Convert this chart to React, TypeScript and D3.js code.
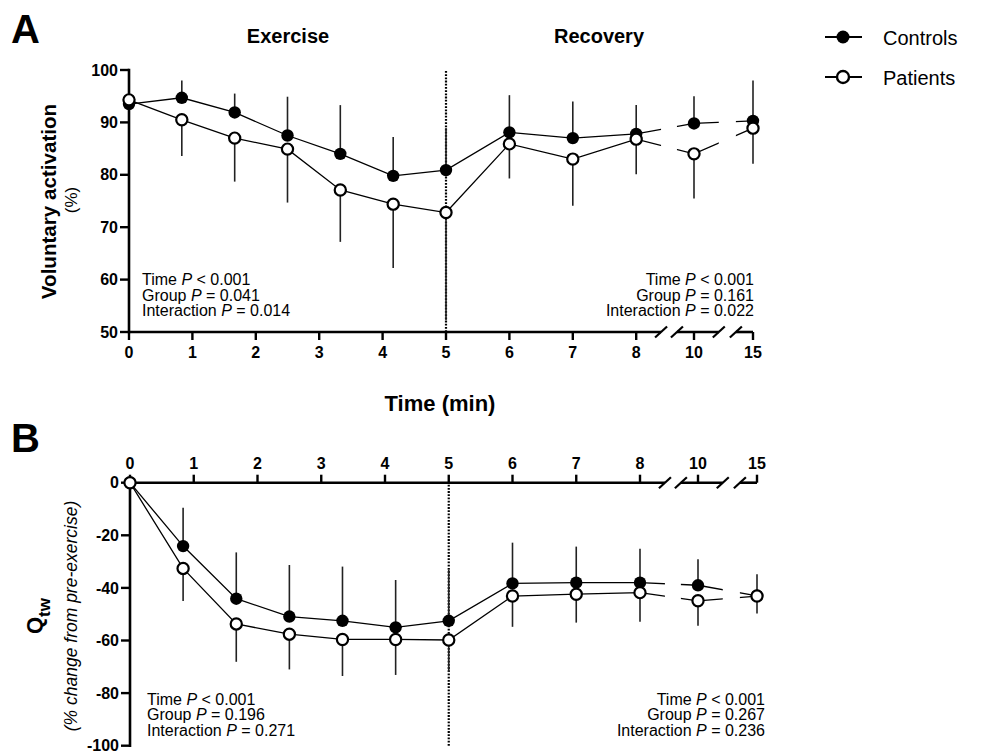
import React from "react";
import * as d3 from "d3";

// time points (min); exercise sampled every 50 s, then recovery
const times = [0, 0.833, 1.667, 2.5, 3.333, 4.167, 5, 6, 7, 8, 10, 15];
const xTicks = [0, 1, 2, 3, 4, 5, 6, 7, 8, 10, 15];
const axisBreaks: [number, number][] = [
  [8.86, 9.41],
  [12.1, 13.55],
];
const phaseLabels = ["Exercise", "Recovery"];
const groupNames = ["Controls", "Patients"];

// Panel A: voluntary activation (%)
const vaControls = [93.5, 94.7, 91.9, 87.5, 84.0, 79.8, 80.9, 88.1, 87.0, 87.8, 89.8, 90.3];
const vaControlsErr = [0, 3.3, 3.6, 7.4, 9.3, 7.4, 8.0, 7.1, 7.0, 5.5, 5.2, 7.7];
const vaPatients = [94.3, 90.5, 87.0, 84.9, 77.1, 74.4, 72.8, 85.9, 83.0, 86.8, 84.0, 88.9];
const vaPatientsErr = [0, 6.9, 8.3, 10.2, 9.9, 12.2, 20.5, 6.6, 8.9, 6.7, 8.5, 6.8];
const vaTicks = [50, 60, 70, 80, 90, 100];
const vaStatsExercise = [
  ["Time", "<", "0.001"],
  ["Group", "=", "0.041"],
  ["Interaction", "=", "0.014"],
];
const vaStatsRecovery = [
  ["Time", "<", "0.001"],
  ["Group", "=", "0.161"],
  ["Interaction", "=", "0.022"],
];

// Panel B: Qtw (% change from pre-exercise)
const qtwControls = [0, -24.1, -44.1, -50.9, -52.5, -55.0, -52.5, -38.3, -38.0, -38.0, -39.0, -43.0];
const qtwControlsErr = [0, 14.6, 17.6, 19.6, 20.6, 18.0, 19.3, 15.5, 13.7, 12.9, 9.9, 8.2];
const qtwPatients = [0, -32.6, -53.7, -57.6, -59.6, -59.6, -59.8, -43.1, -42.4, -41.8, -44.9, -43.1];
const qtwPatientsErr = [0, 12.4, 14.4, 13.4, 13.9, 13.5, 12.2, 11.7, 10.8, 11.1, 9.5, 6.6];
const qtwTicks = [-100, -80, -60, -40, -20, 0];
const qtwStatsExercise = [
  ["Time", "<", "0.001"],
  ["Group", "=", "0.196"],
  ["Interaction", "=", "0.271"],
];
const qtwStatsRecovery = [
  ["Time", "<", "0.001"],
  ["Group", "=", "0.267"],
  ["Interaction", "=", "0.236"],
];

const FONT = "'Liberation Sans', Arial, Helvetica, sans-serif";

function StatBlock({
  rows,
  x,
  y,
  anchor,
}: {
  rows: string[][];
  x: number;
  y: number;
  anchor: "start" | "end";
}) {
  return (
    <g fontSize={16} textAnchor={anchor} fill="#000">
      {rows.map((r, i) => (
        <text key={i} x={x} y={y + i * 15.6}>
          {`${r[0]} `}
          <tspan fontStyle="italic">P</tspan>
          {` ${r[1]} ${r[2]}`}
        </text>
      ))}
    </g>
  );
}

interface PanelProps {
  id: string;
  x: d3.ScaleLinear<number, number>;
  y: d3.ScaleLinear<number, number>;
  yTicks: number[];
  axisOnTop: boolean;
  controls: number[];
  controlsErr: number[];
  patients: number[];
  patientsErr: number[];
}

function Panel({ id, x, y, yTicks, axisOnTop, controls, controlsErr, patients, patientsErr }: PanelProps) {
  const [yMin, yMax] = y.domain();
  const x0 = x(0);
  const axisY = axisOnTop ? y(yMax) : y(yMin);
  const segs: [number, number][] = [
    [0, axisBreaks[0][0]],
    [axisBreaks[0][1], axisBreaks[1][0]],
    [axisBreaks[1][1], 15],
  ];
  const line = d3
    .line<number>()
    .x((_d, i) => x(times[i]))
    .y((d) => y(d));
  const tickDir = axisOnTop ? -8 : 8;
  const labelY = axisOnTop ? axisY - 13.5 : axisY + 25.5;

  return (
    <g fontFamily={FONT}>
      <defs>
        <clipPath id={`clip-${id}`}>
          {segs.map(([a, b], i) => {
            const xa = i === 0 ? x(a) - 30 : x(a);
            const xb = i === segs.length - 1 ? x(b) + 30 : x(b);
            return <rect key={i} x={xa} y={0} width={xb - xa} height={752} />;
          })}
        </clipPath>
      </defs>

      {/* y axis */}
      <line x1={x0} x2={x0} y1={y(yMin)} y2={y(yMax)} stroke="#000" strokeWidth={2.6} strokeLinecap="square" />
      {yTicks.map((t) => (
        <g key={t}>
          <line x1={x0 - 9} x2={x0} y1={y(t)} y2={y(t)} stroke="#000" strokeWidth={2.4} />
          <text x={x0 - 11} y={y(t) + 5.6} textAnchor="end" fontSize={16} fontWeight="bold">
            {String(t)}
          </text>
        </g>
      ))}

      {/* x axis with breaks */}
      {segs.map(([a, b], i) => (
        <line key={i} x1={x(a)} x2={x(b)} y1={axisY} y2={axisY} stroke="#000" strokeWidth={2.6} />
      ))}
      {axisBreaks.flat().map((b, i) => (
        <line
          key={i}
          x1={x(b) - 6}
          x2={x(b) + 6}
          y1={axisY + 5.5}
          y2={axisY - 5.5}
          stroke="#000"
          strokeWidth={2.2}
        />
      ))}
      {xTicks.map((t) => (
        <g key={t}>
          <line x1={x(t)} x2={x(t)} y1={axisY} y2={axisY + tickDir} stroke="#000" strokeWidth={2.4} />
          <text x={x(t)} y={labelY} textAnchor="middle" fontSize={16} fontWeight="bold">
            {String(t)}
          </text>
        </g>
      ))}

      {/* end of exercise */}
      <line
        x1={x(5)}
        x2={x(5)}
        y1={y(yMin)}
        y2={y(yMax)}
        stroke="#000"
        strokeWidth={2.2}
        strokeDasharray="1.8 1.4"
      />

      {/* error bars: controls upward, patients downward */}
      {times.map((t, i) =>
        controlsErr[i] > 0 ? (
          <line key={`ce${i}`} x1={x(t)} x2={x(t)} y1={y(controls[i])} y2={y(controls[i] + controlsErr[i])} stroke="#222" strokeWidth={1.6} />
        ) : null
      )}
      {times.map((t, i) =>
        patientsErr[i] > 0 ? (
          <line key={`pe${i}`} x1={x(t)} x2={x(t)} y1={y(patients[i])} y2={y(patients[i] - patientsErr[i])} stroke="#222" strokeWidth={1.6} />
        ) : null
      )}

      <g clipPath={`url(#clip-${id})`} fill="none" stroke="#000" strokeWidth={1.3}>
        <path d={line(controls) || ""} />
        <path d={line(patients) || ""} />
      </g>

      {times.map((t, i) => (
        <circle key={`c${i}`} cx={x(t)} cy={y(controls[i])} r={6.2} fill="#000" />
      ))}
      {times.map((t, i) => (
        <circle key={`p${i}`} cx={x(t)} cy={y(patients[i])} r={5.6} fill="#fff" stroke="#000" strokeWidth={2.2} />
      ))}
    </g>
  );
}

export default function App() {
  const xA = d3.scaleLinear().domain([0, 8, 10, 15]).range([129, 636.2, 694, 753]);
  const yA = d3.scaleLinear().domain([50, 100]).range([332, 70]);
  const xB = d3.scaleLinear().domain([0, 8, 10, 15]).range([130, 640, 698, 757]);
  const yB = d3.scaleLinear().domain([-100, 0]).range([745.7, 482.7]);

  return (
    <svg
      width={981}
      height={752}
      viewBox="0 0 981 752"
      style={{ position: "absolute", left: 0, top: 0, background: "#fff" }}
      fontFamily={FONT}
    >
      <rect width={981} height={752} fill="#fff" />

      {/* panel A */}
      <text x={11} y={43} fontSize={40} fontWeight="bold">A</text>
      <text x={288} y={43} fontSize={20} fontWeight="bold" textAnchor="middle">{phaseLabels[0]}</text>
      <text x={599} y={43} fontSize={20} fontWeight="bold" textAnchor="middle">{phaseLabels[1]}</text>
      <text transform="translate(56,201.5) rotate(-90)" fontSize={20.6} fontWeight="bold" textAnchor="middle">
        Voluntary activation
      </text>
      <text transform="translate(76.5,200) rotate(-90)" fontSize={17} textAnchor="middle">(%)</text>
      <Panel
        id="a"
        x={xA}
        y={yA}
        yTicks={vaTicks}
        axisOnTop={false}
        controls={vaControls}
        controlsErr={vaControlsErr}
        patients={vaPatients}
        patientsErr={vaPatientsErr}
      />
      <StatBlock rows={vaStatsExercise} x={142} y={285} anchor="start" />
      <StatBlock rows={vaStatsRecovery} x={754} y={285} anchor="end" />
      <text x={440} y={411} fontSize={22} fontWeight="bold" textAnchor="middle">Time (min)</text>

      {/* legend */}
      {groupNames.map((g, i) => {
        const ly = 37 + i * 40;
        return (
          <g key={g}>
            <line x1={825} x2={862} y1={ly} y2={ly} stroke="#000" strokeWidth={1.8} />
            {i === 0 ? (
              <circle cx={843} cy={ly} r={6.5} fill="#000" />
            ) : (
              <circle cx={843} cy={ly} r={6} fill="#fff" stroke="#000" strokeWidth={2.4} />
            )}
            <text x={883} y={ly + 7.5} fontSize={20}>{g}</text>
          </g>
        );
      })}

      {/* panel B */}
      <text x={11} y={452} fontSize={40} fontWeight="bold">B</text>
      <text transform="translate(42,616) rotate(-90)" fontSize={22} fontWeight="bold" textAnchor="middle">
        Q<tspan fontSize={17} dy={8}>tw</tspan>
      </text>
      <text transform="translate(76.5,616) rotate(-90)" fontSize={17.5} fontStyle="italic" textAnchor="middle">
        (% change from pre-exercise)
      </text>
      <Panel
        id="b"
        x={xB}
        y={yB}
        yTicks={qtwTicks}
        axisOnTop={true}
        controls={qtwControls}
        controlsErr={qtwControlsErr}
        patients={qtwPatients}
        patientsErr={qtwPatientsErr}
      />
      <StatBlock rows={qtwStatsExercise} x={147} y={704.5} anchor="start" />
      <StatBlock rows={qtwStatsRecovery} x={765} y={704.5} anchor="end" />
    </svg>
  );
}
